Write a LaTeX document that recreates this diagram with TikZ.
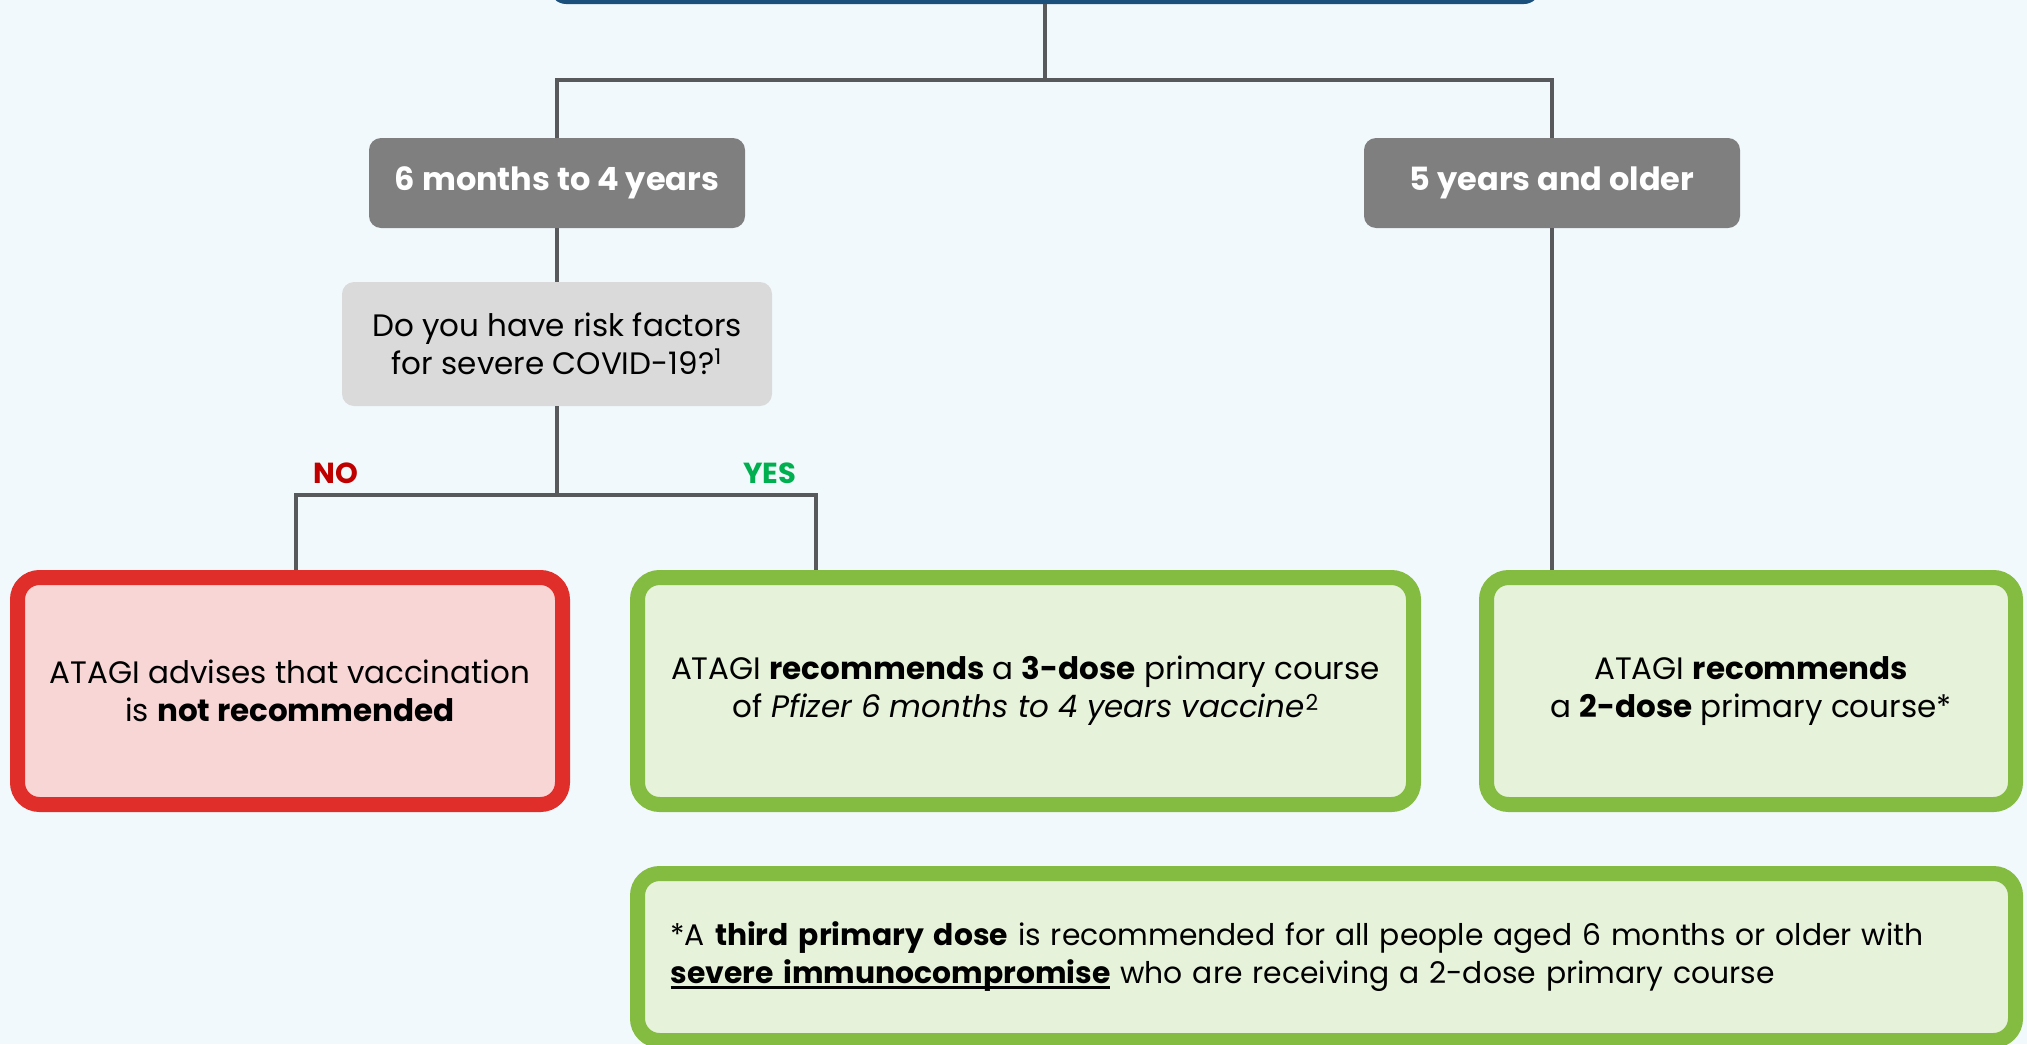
\documentclass[tikz,border=0pt]{standalone}
\usepackage{fontspec}
\setmainfont{Poppins}
\usetikzlibrary{positioning, calc}
\definecolor{bgblue}{HTML}{F2F9FD}
\definecolor{headblue}{HTML}{1B4F7C}
\definecolor{linegray}{HTML}{58595B}
\definecolor{agegray}{HTML}{7F7F7F}
\definecolor{askgray}{HTML}{DADADA}
\definecolor{nored}{HTML}{E02E2A}
\definecolor{nofill}{HTML}{F9D6D6}
\definecolor{yesgreen}{HTML}{84BC41}
\definecolor{yesfill}{HTML}{E6F2DA}
\definecolor{notext}{HTML}{C00000}
\definecolor{yestext}{HTML}{00B050}
\newcommand{\flowfont}{\fontsize{15.5}{19}\selectfont}
\newcommand{\notefont}{\fontsize{14.9}{19}\selectfont}
\newcommand{\thickul}[1]{\leavevmode\setbox0\hbox{#1}\rlap{\rule[-2.5pt]{\wd0}{1.3pt}}\box0\relax}

\tikzset{
  link/.style={draw=linegray, line width=1.75pt},
  agebox/.style={fill=agegray, rounded corners=6pt, minimum width=188pt, minimum height=45pt, text=white, font=\fontsize{16}{19}\selectfont\bfseries},
  askbox/.style={fill=askgray, rounded corners=6pt, minimum width=215pt, minimum height=62pt, align=center, font=\flowfont},
  nobox/.style={draw=nored, fill=nofill, line width=7.5pt, rounded corners=11pt, minimum height=113.5pt, align=center, font=\flowfont},
  yesbox/.style={draw=yesgreen, fill=yesfill, line width=7.5pt, rounded corners=11pt, minimum height=113.5pt, align=center, font=\flowfont},
  answer/.style={font=\fontsize{14.5}{17}\selectfont\bfseries}
}

\begin{document}
\begin{tikzpicture}[x=0.5pt, y=-0.5pt]
  \useasboundingbox (0,0) rectangle (2027,1044);
  \clip (0,0) rectangle (2027,1044);
  \fill[bgblue] (0,0) rectangle (2027,1044);

  % Header (cut off at the top)
  \node[fill=headblue, rounded corners=8pt, minimum width=495pt, minimum height=40pt] (head) at (1045,-36) {};

  % Age groups
  \node[agebox] (young) at (557,183) {6 months to 4 years};
  \node[agebox] (older) at (1552,183) {5 years and older};

  % Risk question
  \node[askbox] (ask) at (557,344) {Do you have risk factors\\for severe COVID-19?\textsuperscript{1}};

  % Outcomes
  \node[nobox, minimum width=272.5pt] (notrec) at (290,691) {ATAGI advises that vaccination\\is \textbf{not recommended}};
  \node[yesbox, minimum width=388pt] (three) at (1025.5,691) {ATAGI \textbf{recommends} a \textbf{3-dose} primary course\\of \textit{Pfizer 6 months to 4 years vaccine}\kern0.5pt\raisebox{0.45ex}{\fontsize{11}{11}\selectfont 2}};
  \node[yesbox, minimum width=264.5pt] (two) at (1751,691) {ATAGI \textbf{recommends}\\a \textbf{2-dose} primary course*};

  % Footnote
  \node[yesbox, minimum width=689pt, minimum height=83.5pt, text width=656pt, align=left, font=\notefont] (note) at (1326.5,957) {*A \textbf{third primary dose} is recommended for all people aged 6 months or older with\\\thickul{\textbf{severe immunocompromise}} who are receiving a 2-dose primary course};

  % Connectors
  \coordinate (fork1) at (1045,80);
  \coordinate (fork2) at (557,495);
  \draw[link] (head.south) -- (fork1) -| (young.north);
  \draw[link] (fork1) -| (older.north);
  \draw[link] (young.south) -- (ask.north);
  \draw[link] (ask.south) -- (fork2) -| ($(notrec.north)+(6,0)$);
  \draw[link] (fork2) -| ($(three.north west)+(186,0)$);
  \draw[link] (older.south) -- (older.south |- two.north);

  % Answer labels
  \node[answer, text=notext] (nolabel) at (336,473) {NO};
  \node[answer, text=yestext] (yeslabel) at (770,473) {YES};
\end{tikzpicture}
\end{document}
